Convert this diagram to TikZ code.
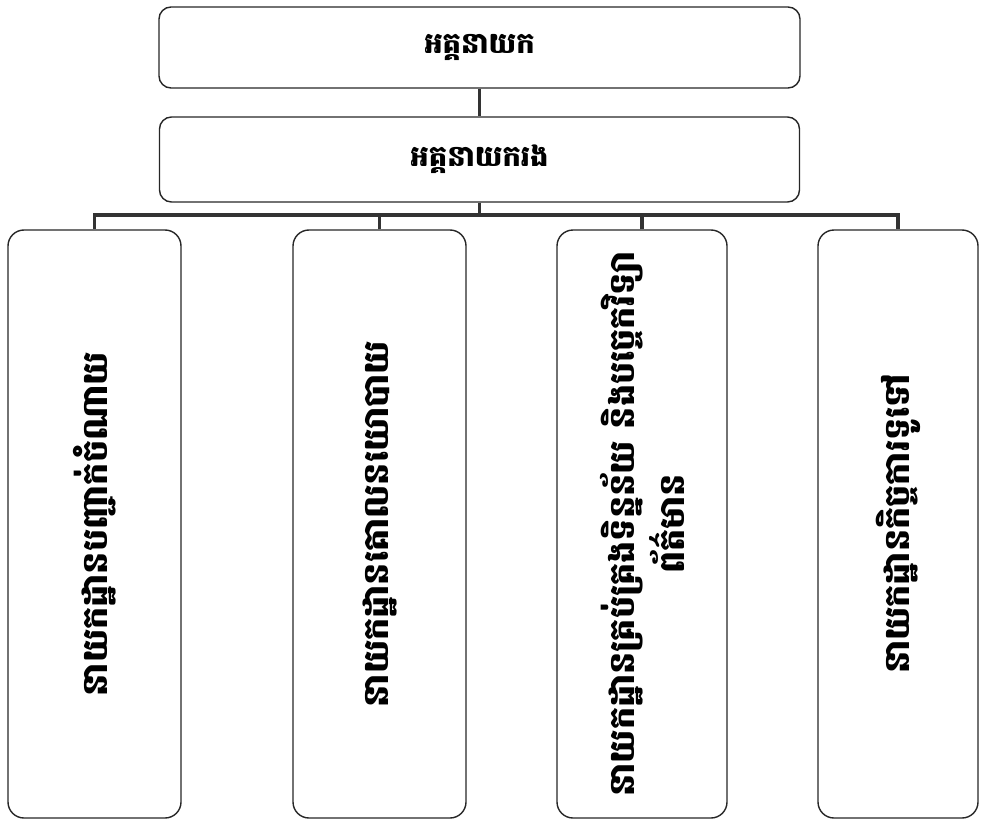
\documentclass[tikz,border=0pt]{standalone}
\usepackage{fontspec}
\newfontfamily\khmer[Script=Khmer]{Battambang}
\begin{document}
\begin{tikzpicture}[x=1pt,y=-1pt,
  font=\khmer\bfseries\fontsize{29}{40}\selectfont,
  topbox/.style={draw=black!85, rounded corners=12pt, line width=1.4pt, inner sep=0pt},
  deptbox/.style={draw=black!85, rounded corners=16pt, line width=1.4pt, inner sep=0pt, minimum height=588pt},
  vtext/.style={rotate=90, align=center, inner sep=0pt, font=\khmer\bfseries\fontsize{35}{50}\selectfont},
  conn/.style={draw=black!80, line width=3.5pt}]
\useasboundingbox (0,0) rectangle (981,821);
\node[topbox, minimum width=641pt, minimum height=81pt] (gd) at (479.5,47.5) {អគ្គនាយក};
\node[topbox, minimum width=640pt, minimum height=85pt] (dgd) at (479.5,159.5) {អគ្គនាយករង};
\node[deptbox, minimum width=173pt] (b1) at (94.5,524) {};
\node[deptbox, minimum width=173pt] (b2) at (379.5,524) {};
\node[deptbox, minimum width=170pt] (b3) at (642,524) {};
\node[deptbox, minimum width=160pt] (b4) at (898,524) {};
\node[vtext] (t1) at (b1) {នាយកដ្ឋានបញ្ជាក់ចំណាយ};
\node[vtext] (t2) at (b2) {នាយកដ្ឋានគោលនយោបាយ};
\node[vtext] (t3) at (b3) {នាយកដ្ឋានគ្រប់គ្រងទិន្នន័យ និងបច្ចេកវិទ្យា\\ព័ត៌មាន};
\node[vtext] (t4) at (b4) {នាយកដ្ឋានកិច្ចការទូទៅ};
\coordinate (bj) at (482,215);
\draw[conn] (gd.south) -- (dgd.north);
\draw[conn] (dgd.south) -- (dgd.south |- bj);
\draw[conn] (b1.north) -- (b1.north |- bj) -- (b4.north |- bj) -- (b4.north);
\draw[conn] (b2.north) -- (b2.north |- bj);
\draw[conn] (b3.north) -- (b3.north |- bj);
\end{tikzpicture}
\end{document}
